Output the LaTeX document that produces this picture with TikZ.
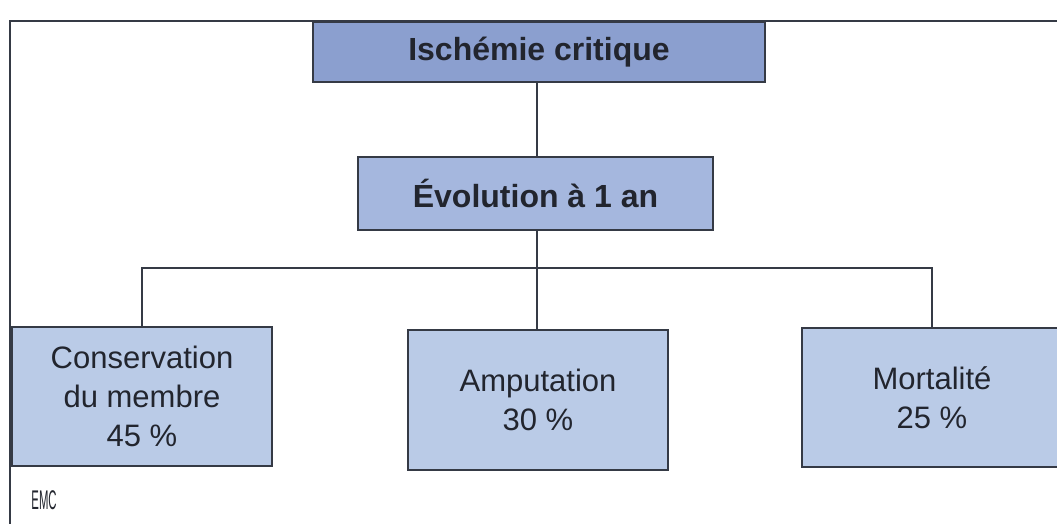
\documentclass[tikz,border=0pt]{standalone}
\usepackage{fontspec}
\setmainfont{Liberation Sans}
\definecolor{topblue}{HTML}{8B9FCF}
\definecolor{midblue}{HTML}{A5B7DE}
\definecolor{lowblue}{HTML}{BACBE7}
\definecolor{edge}{HTML}{353A45}
\definecolor{ink}{HTML}{22252E}
\begin{document}
\begin{tikzpicture}[x=1pt,y=-1pt,
  box/.style={draw=edge,line width=1.8pt,rectangle,inner sep=0pt,align=center,text=ink},
  headbox/.style={box,font=\bfseries\fontsize{32}{38}\selectfont},
  leafbox/.style={box,fill=lowblue,minimum width=260pt,minimum height=139pt,font=\fontsize{31}{39}\selectfont},
  link/.style={draw=edge,line width=1.8pt}]
\useasboundingbox (0,0) rectangle (1057,524);
\fill[white] (0,0) rectangle (1057,524);
\draw[edge,line width=2.5pt] (10,524) -- (10,21) -- (1057,21);
\node[headbox,fill=topblue,minimum width=452pt,minimum height=60pt] (top) at (539,52) {Ischémie critique};
\node[headbox,fill=midblue,minimum width=355pt,minimum height=73pt] (evo) at (535.5,193.5) {Évolution à 1 an};
\node[leafbox] (cons) at (142,396.5) {Conservation\\du membre\\45 \%};
\node[leafbox,minimum height=140pt] (amp) at (538,400) {Amputation\\30 \%};
\node[leafbox] (mort) at (932,397.5) {Mortalité\\25 \%};
\coordinate (bar) at (537,268);
\draw[link] (top.south -| bar) -- (evo.north -| bar);
\draw[link] (evo.south -| bar) -- (amp.north -| bar);
\draw[link] (cons.north) -- (cons.north |- bar) -- (mort.north |- bar) -- (mort.north);
\node[font=\fontsize{27}{27}\selectfont,text=ink,xscale=0.42,anchor=west] (emc) at (30,500) {EMC};
\end{tikzpicture}
\end{document}
